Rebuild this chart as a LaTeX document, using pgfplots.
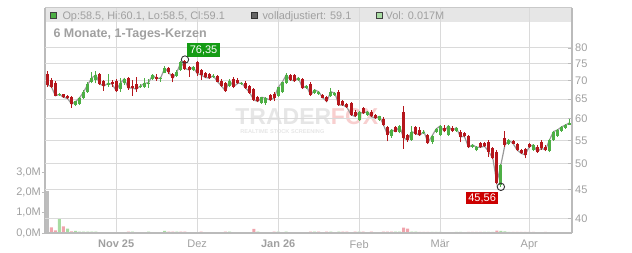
\documentclass[border=0pt]{standalone}
\usepackage{fontspec}
\setmainfont{Liberation Sans}
\usepackage{pgfplots}
\pgfplotsset{compat=1.18}
\usepackage{pgfplotstable}

\definecolor{cgreen}{HTML}{4DAF45}
\definecolor{cred}{HTML}{B5161C}
\definecolor{gridc}{HTML}{DADADA}
\definecolor{axisc}{HTML}{BBBBBB}
\definecolor{txtc}{HTML}{A0A0A0}
\definecolor{bandc}{HTML}{E6E6E6}
\definecolor{linec}{HTML}{9A9A9A}
\definecolor{volred}{HTML}{F0A4AC}
\definecolor{volgreen}{HTML}{A8DCA2}
\definecolor{volgray}{HTML}{BDBDBD}
\definecolor{lblgreen}{HTML}{149C14}
\definecolor{lblred}{HTML}{CC0000}
\definecolor{wmgray}{HTML}{E6E6E6}
\definecolor{wmred}{HTML}{F8CFCF}

\pgfplotstableread{
x o h l c
0 72.0 72.9 68.4 68.9
1 70.3 70.9 68.1 68.4
2 69.4 69.9 65.8 65.9
3 66.0 66.6 65.8 66.3
4 66.3 66.5 65.4 65.5
5 65.9 66.1 65.0 65.2
6 65.6 65.8 62.8 63.7
7 63.5 64.6 63.2 64.4
8 63.8 65.6 63.6 65.4
9 65.3 67.5 65.1 67.0
10 66.9 69.8 66.7 69.0
11 69.8 72.5 69.3 70.9
12 70.3 73.0 69.3 71.7
13 71.9 72.2 68.8 69.1
14 70.0 70.3 67.3 68.6
15 68.9 72.0 68.4 69.3
16 69.8 70.3 68.4 69.1
17 70.0 70.5 67.0 67.3
18 67.7 70.8 67.0 69.3
19 69.3 70.9 68.9 70.6
20 70.9 71.2 67.5 68.0
21 68.7 70.3 65.9 68.0
22 69.1 71.0 67.0 67.7
23 68.2 69.0 68.0 68.6
24 68.2 70.8 68.0 69.3
25 69.1 70.5 68.0 69.5
26 70.6 71.9 70.3 71.7
27 71.2 71.9 70.0 70.6
28 70.6 71.2 69.8 70.9
29 72.4 74.4 72.2 73.7
30 73.9 74.1 71.9 72.5
31 72.1 72.2 69.6 70.8
32 71.5 73.2 71.2 72.5
33 73.2 75.9 73.0 75.6
34 75.9 76.35 73.3 73.6
35 74.2 74.4 71.2 73.2
36 73.2 74.4 72.9 74.0
37 75.6 75.9 71.5 72.2
38 73.3 73.6 70.3 71.7
39 72.2 72.6 70.7 71.0
40 71.9 72.2 70.5 70.8
41 71.0 72.0 70.8 71.5
42 71.5 71.7 69.6 69.8
43 70.1 70.6 68.4 68.6
44 69.4 69.8 67.0 67.2
45 68.6 70.5 68.3 70.1
46 70.5 71.2 67.9 68.4
47 70.3 70.9 69.0 69.3
48 69.1 69.8 68.9 69.4
49 69.5 69.9 67.8 68.0
50 68.6 68.9 66.5 66.7
51 67.7 68.0 64.6 64.8
52 65.5 65.8 64.2 64.4
53 64.0 65.7 63.8 65.5
54 63.9 65.5 63.6 65.2
55 66.0 66.3 64.6 64.8
56 66.3 66.8 64.4 65.3
57 65.9 68.4 65.6 68.2
58 66.8 69.8 66.6 69.6
59 69.3 72.2 69.1 71.7
60 71.6 71.9 70.0 70.3
61 71.6 71.9 69.8 70.0
62 70.3 71.1 70.0 70.9
63 70.6 70.9 67.7 68.0
64 68.0 68.8 67.8 68.6
65 69.2 69.6 65.9 66.1
66 66.6 67.8 66.4 67.5
67 66.4 67.3 66.2 67.0
68 66.0 66.3 65.2 65.4
69 65.6 65.9 64.2 64.4
70 65.9 68.0 65.6 67.0
71 66.1 66.9 65.9 66.6
72 67.0 67.4 63.3 63.5
73 64.4 64.7 63.3 63.5
74 63.8 64.1 62.7 62.9
75 64.0 64.3 60.8 61.0
76 61.8 62.1 60.4 60.6
77 59.8 61.9 59.6 61.6
78 62.6 62.9 61.2 61.4
79 61.0 62.0 60.8 61.8
80 61.8 62.1 60.4 60.6
81 61.0 61.3 60.0 60.2
82 59.8 60.8 59.6 60.6
83 60.1 60.4 58.4 58.6
84 58.0 58.4 54.8 56.3
85 55.9 57.6 55.6 57.4
86 58.0 58.3 56.8 57.0
87 56.8 58.6 56.6 58.2
88 61.6 63.2 53.2 55.5
89 56.2 56.5 54.7 55.1
90 55.1 58.3 54.9 57.0
91 58.0 58.3 56.3 56.5
92 57.3 58.0 56.0 56.2
93 56.6 57.3 56.4 57.0
94 56.2 56.4 54.2 54.5
95 54.7 56.3 54.2 56.0
96 56.9 57.8 56.7 57.6
97 56.2 58.5 56.0 58.3
98 57.9 58.6 56.8 57.1
99 56.2 58.5 56.0 58.3
100 57.9 58.3 56.9 57.2
101 57.2 58.1 57.0 57.9
102 56.8 57.4 54.6 55.8
103 56.7 56.9 55.7 55.9
104 55.9 56.1 53.3 53.5
105 53.6 54.3 53.4 54.0
106 52.8 53.7 52.6 53.5
107 54.4 54.7 53.3 53.5
108 54.4 54.6 53.5 53.7
109 54.7 55.0 51.5 52.5
110 53.3 53.5 51.0 51.2
111 52.5 52.8 46.1 46.3
112 45.9 50.0 45.56 49.8
113 55.5 57.2 53.5 54.0
114 54.3 55.2 54.0 55.0
115 54.8 55.1 54.1 54.3
116 54.1 54.4 52.7 52.9
117 52.9 53.2 52.0 52.2
118 53.1 53.3 51.15 51.85
119 54.2 54.5 53.4 53.6
120 52.9 54.2 52.7 54.0
121 53.6 53.9 52.3 52.5
122 54.7 55.0 53.0 53.3
123 53.6 53.9 52.6 52.9
124 52.6 55.4 52.4 55.1
125 55.1 57.2 54.9 57.0
126 56.0 57.6 55.8 57.4
127 57.2 58.3 57.0 58.1
128 57.9 58.8 57.7 58.55
129 58.5 60.1 58.5 59.1
}\candles

\begin{document}
\begin{tikzpicture}
\path[use as bounding box] (0pt,0pt) rectangle (632pt,253pt);

% ---------- volume axis (left) ----------
\begin{axis}[
  at={(45pt,20pt)}, anchor=south west,
  scale only axis, width=527pt, height=225pt,
  xmin=-0.568, xmax=129.56,
  ymin=0, ymax=11.084,
  clip=false,
  axis line style={draw=none},
  xtick=\empty,
  ytick pos=left,
  ytick={0,1,2,3},
  yticklabels={{0,0M},{1,0M},{2,0M},{3,0M}},
  tick align=outside,
  major tick length=3pt,
  ytick style={draw=axisc, line width=0.9pt},
  yticklabel style={font=\fontsize{11}{11}\selectfont, text=txtc, anchor=east, inner sep=0pt, xshift=-1pt},
]
% header band
\fill[bandc] (rel axis cs:0,1) rectangle (rel axis cs:1,0.9364);
\draw[axisc!80, line width=1pt] (rel axis cs:0,1) -- (rel axis cs:1,1);
% watermark
\node[anchor=base west, inner sep=0pt, text=wmgray, font=\fontsize{23}{23}\selectfont\bfseries] at (axis cs:46.4,5.35) {TRADER};
\node[anchor=base west, inner sep=0pt, text=wmred, font=\fontsize{23}{23}\selectfont\bfseries] at (axis cs:70.0,5.35) {FOX};
\node[anchor=base west, inner sep=0pt, text=wmgray, font=\fontsize{5.6}{5.6}\selectfont\bfseries] at (axis cs:47.6,4.88) {REALTIME STOCK SCREENING};
% volume bars
\addplot[ybar, bar width=3.2pt, bar shift=0pt, fill=volgray, draw=none] coordinates {(0,2.08)};
\addplot[ybar, bar width=3pt, bar shift=0pt, fill=volred, draw=none] coordinates {
(1,0.28) (2,0.13) (4,0.33) (6,0.08) (20,0.07) (30,0.07) (31,0.07) (33,0.07) (34,0.07)
(38,0.07) (44,0.07) (51,0.20) (56,0.07) (65,0.07) (67,0.07) (69,0.07) (73,0.07) (74,0.07)
(76,0.07) (78,0.07) (80,0.07) (83,0.07) (84,0.07) (85,0.07) (88,0.26) (89,0.21) (92,0.06)
(93,0.06) (94,0.06) (104,0.06) (105,0.06) (106,0.06) (107,0.06) (111,0.12) (115,0.06)
(116,0.06) (117,0.06) (118,0.06) (119,0.06) (120,0.06) (123,0.06)};
\addplot[ybar, bar width=3pt, bar shift=0pt, fill=volgreen, draw=none] coordinates {
(3,0.69) (5,0.21) (7,0.11) (8,0.07) (9,0.07) (10,0.07) (11,0.07) (12,0.07) (21,0.07)
(25,0.07) (29,0.10) (32,0.07) (45,0.07) (52,0.07) (57,0.07) (59,0.07) (66,0.07) (70,0.07)
(72,0.07) (77,0.07) (86,0.07) (87,0.07) (90,0.07) (91,0.07) (95,0.06) (96,0.06) (97,0.06)
(101,0.06) (102,0.06) (108,0.06) (109,0.06) (110,0.06) (112,0.10) (113,0.08) (114,0.06)
(129,0.017)};
\draw[axisc, line width=1.2pt] (rel axis cs:0,0) -- (rel axis cs:0,1);
\end{axis}

% ---------- price axis (right, log) ----------
\begin{axis}[
  at={(45pt,20pt)}, anchor=south west,
  scale only axis, width=527pt, height=225pt,
  xmin=-0.568, xmax=129.56,
  ymode=log, ymin=37.79, ymax=94.08,
  clip=false,
  axis line style={draw=none},
  xtick={17,37,57,77,97,119},
  xticklabels={\textbf{Nov 25},Dez,\textbf{Jan 26},Feb,Mär,Apr},
  xtick pos=bottom,
  xtick style={draw=none},
  xticklabel style={font=\fontsize{11}{11}\selectfont, text=txtc, anchor=north, inner sep=0pt, yshift=-7pt},
  ytick={40,45,50,55,60,65,70,75,80},
  yticklabels={40,45,50,55,60,65,70,75,80},
  ytick pos=right,
  tick align=inside,
  major tick length=4pt,
  ytick style={draw=axisc, line width=0.9pt},
  yticklabel style={font=\fontsize{11}{11}\selectfont, text=txtc, anchor=west, inner sep=0pt, xshift=3pt},
  xmajorgrids, ymajorgrids,
  grid style={draw=gridc, line width=1pt},
]
% close line
\addplot[draw=linec, line width=1.2pt, mark=none] table[x=x, y=c] {\candles};
% green candles: wicks and bodies
\addplot[draw=none, mark=none, restrict expr to domain={\thisrow{c}-\thisrow{o}}{0:100},
  error bars/.cd, y dir=plus, y explicit, error mark=none,
  error bar style={draw=cgreen, line width=1pt}]
  table[x=x, y=l, y error expr=\thisrow{h}-\thisrow{l}] {\candles};
\addplot[draw=none, mark=none, restrict expr to domain={\thisrow{c}-\thisrow{o}}{0:100},
  error bars/.cd, y dir=plus, y explicit, error mark=none,
  error bar style={draw=cgreen, line width=3pt}]
  table[x=x, y=o, y error expr=\thisrow{c}-\thisrow{o}] {\candles};
% red candles: wicks and bodies
\addplot[draw=none, mark=none, restrict expr to domain={\thisrow{o}-\thisrow{c}}{0.001:100},
  error bars/.cd, y dir=plus, y explicit, error mark=none,
  error bar style={draw=cred, line width=1pt}]
  table[x=x, y=l, y error expr=\thisrow{h}-\thisrow{l}] {\candles};
\addplot[draw=none, mark=none, restrict expr to domain={\thisrow{o}-\thisrow{c}}{0.001:100},
  error bars/.cd, y dir=plus, y explicit, error mark=none,
  error bar style={draw=cred, line width=3pt}]
  table[x=x, y=c, y error expr=\thisrow{o}-\thisrow{c}] {\candles};
% extreme markers
\addplot[only marks, mark=o, mark size=3.7pt, mark options={draw=black!80, line width=0.9pt}] coordinates {(34,76.35) (112,45.56)};
\node[fill=lblgreen, text=white, font=\fontsize{11}{11}\selectfont, inner xsep=2.6pt, inner ysep=3pt, text height=8pt, text depth=0pt, anchor=south west, xshift=2pt, yshift=2.6pt] at (axis cs:34,76.35) {76,35};
\node[fill=lblred, text=white, font=\fontsize{11}{11}\selectfont, inner xsep=2.2pt, inner ysep=2pt, text height=8pt, text depth=0pt, anchor=north east, xshift=-2.6pt, yshift=-4.8pt] at (axis cs:112,45.56) {45,56};
% frame lines
\draw[axisc, line width=1.2pt] (rel axis cs:1,0) -- (rel axis cs:1,1);
\draw[axisc, line width=1.2pt] (rel axis cs:0,0) -- (rel axis cs:1,0);
\end{axis}

% ---------- header texts ----------
\filldraw[fill=cgreen, draw=black!75, line width=0.8pt] (50.6pt,234.3pt) rectangle (56.8pt,240.3pt);
\node[anchor=base west, inner sep=0pt, text=txtc, font=\fontsize{10.9}{10.9}\selectfont] at (62.3pt,233.8pt) {Op:58.5, Hi:60.1, Lo:58.5, Cl:59.1};
\filldraw[fill=black!60, draw=black!80, line width=0.8pt] (251pt,234.3pt) rectangle (257.2pt,240.3pt);
\node[anchor=base west, inner sep=0pt, text=txtc, font=\fontsize{10.9}{10.9}\selectfont] at (262.3pt,233.8pt) {volladjustiert: 59.1};
\filldraw[fill=volgreen, draw=black!75, line width=0.8pt] (376.2pt,234.3pt) rectangle (382.4pt,240.3pt);
\node[anchor=base west, inner sep=0pt, text=txtc, font=\fontsize{10.9}{10.9}\selectfont] at (385.5pt,233.8pt) {Vol: 0.017M};
\node[anchor=base west, inner sep=0pt, text=txtc, font=\fontsize{12.5}{12.5}\selectfont\bfseries] at (53.3pt,215.7pt) {6 Monate, 1-Tages-Kerzen};
\end{tikzpicture}
\end{document}
